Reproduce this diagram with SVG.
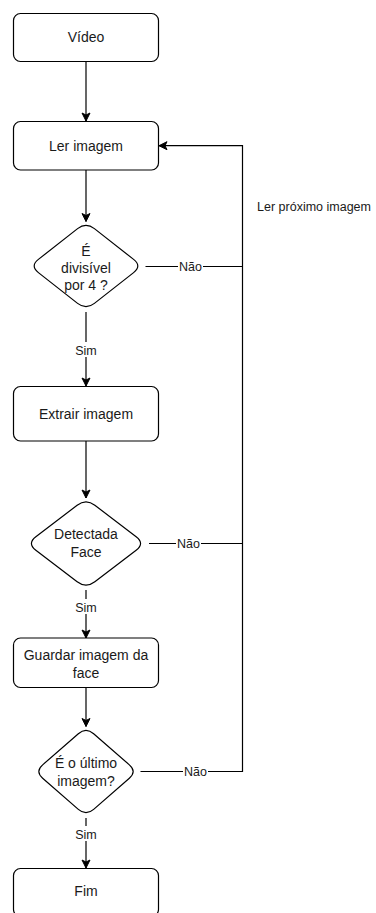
<svg xmlns="http://www.w3.org/2000/svg" width="376" height="913" viewBox="0 0 376 913">
  <style>
    .box { fill: #fff; stroke: #000; stroke-width: 1.2; }
    .t { font-family: "Liberation Sans", Arial, sans-serif; font-size: 14px; fill: #1a1a1a; text-anchor: middle; }
    .lbl { font-family: "Liberation Sans", Arial, sans-serif; font-size: 12.5px; fill: #1a1a1a; text-anchor: middle; }
    .edge { fill: none; stroke: #000; stroke-width: 1.2; }
    .bg { fill: #fff; }
  </style>
  <defs>
    <marker id="arrow" markerUnits="userSpaceOnUse" markerWidth="10" markerHeight="10" viewBox="0 0 10 10" refX="9" refY="5" orient="auto">
      <path d="M1,1 L9,5 L1,9 L3,5 Z" fill="#000" stroke="#000" stroke-width="1"/>
    </marker>
  </defs>

  <!-- connectors -->
  <g id="connectors">
    <path class="edge" d="M86,61.7 L86,121" marker-end="url(#arrow)"/>
    <path class="edge" d="M86,170 L86,221.5" marker-end="url(#arrow)"/>
    <path class="edge" d="M86,312 L86,386" marker-end="url(#arrow)"/>
    <path class="edge" d="M86,441 L86,498" marker-end="url(#arrow)"/>
    <path class="edge" d="M86,590 L86,638" marker-end="url(#arrow)"/>
    <path class="edge" d="M86,688 L86,726.5" marker-end="url(#arrow)"/>
    <path class="edge" d="M86,818 L86,868" marker-end="url(#arrow)"/>
    <!-- "Não" branches join the return line -->
    <path class="edge" d="M145.5,266.5 L242.5,266.5"/>
    <path class="edge" d="M149,543.5 L242.5,543.5"/>
    <path class="edge" d="M140.5,771.5 L242.5,771.5 L242.5,145.7 L159,145.7" marker-end="url(#arrow)"/>

    <!-- edge labels -->
    <rect class="bg" x="74" y="342" width="24" height="15"/>
    <text class="lbl" x="86" y="354.5">Sim</text>
    <rect class="bg" x="74" y="599" width="24" height="15"/>
    <text class="lbl" x="86" y="611.5">Sim</text>
    <rect class="bg" x="74" y="826" width="24" height="15"/>
    <text class="lbl" x="86" y="838.5">Sim</text>
    <rect class="bg" x="178" y="259" width="25" height="15"/>
    <text class="lbl" x="190.5" y="271">Não</text>
    <rect class="bg" x="176" y="536" width="25" height="15"/>
    <text class="lbl" x="188.5" y="548">Não</text>
    <rect class="bg" x="183" y="764" width="25" height="15"/>
    <text class="lbl" x="195.5" y="776">Não</text>
    <text class="lbl" x="314" y="210.5">Ler próximo imagem</text>
  </g>

  <g id="video">
    <rect class="box" x="13.5" y="13.5" width="145" height="48" rx="7"/>
    <text class="t" x="86" y="42">Vídeo</text>
  </g>

  <g id="ler-imagem">
    <rect class="box" x="13.5" y="121.5" width="145" height="48.5" rx="7"/>
    <text class="t" x="86" y="150.5">Ler imagem</text>
  </g>

  <g id="divisivel">
    <path class="box" d="M94.4,228.6 L133.6,259.4 Q142,266 133.6,272.6 L94.4,303.4 Q86,310 77.6,303.4 L38.4,272.6 Q30,266 38.4,259.4 L77.6,228.6 Q86,222 94.4,228.6 Z"/>
    <text class="t" x="86" y="255.5">É</text>
    <text class="t" x="86" y="272.5">divisível</text>
    <text class="t" x="86" y="290">por 4 ?</text>
  </g>

  <g id="extrair">
    <rect class="box" x="13.5" y="386.5" width="145" height="54.5" rx="7"/>
    <text class="t" x="86" y="418.5">Extrair imagem</text>
  </g>

  <g id="detectada">
    <path class="box" d="M94.85,505.25 L136.15,536.75 Q145,543.5 136.15,550.25 L94.85,581.75 Q86,588.5 77.15,581.75 L35.85,550.25 Q27,543.5 35.85,536.75 L77.15,505.25 Q86,498.5 94.85,505.25 Z"/>
    <text class="t" x="86" y="539">Detectada</text>
    <text class="t" x="86" y="557">Face</text>
  </g>

  <g id="guardar">
    <rect class="box" x="13.5" y="638" width="145" height="49.5" rx="7"/>
    <text class="t" x="86" y="660">Guardar imagem da</text>
    <text class="t" x="86" y="677.5">face</text>
  </g>

  <g id="ultimo">
    <path class="box" d="M93.65,733.68 L129.35,764.83 Q137,771.5 129.35,778.18 L93.65,809.33 Q86,816 78.35,809.33 L42.65,778.18 Q35,771.5 42.65,764.83 L78.35,733.68 Q86,727 93.65,733.68 Z"/>
    <text class="t" x="86" y="768">É o último</text>
    <text class="t" x="86" y="786">imagem?</text>
  </g>

  <g id="fim">
    <rect class="box" x="13.5" y="868.5" width="145" height="48" rx="7"/>
    <text class="t" x="86" y="895.5">Fim</text>
  </g>
</svg>
